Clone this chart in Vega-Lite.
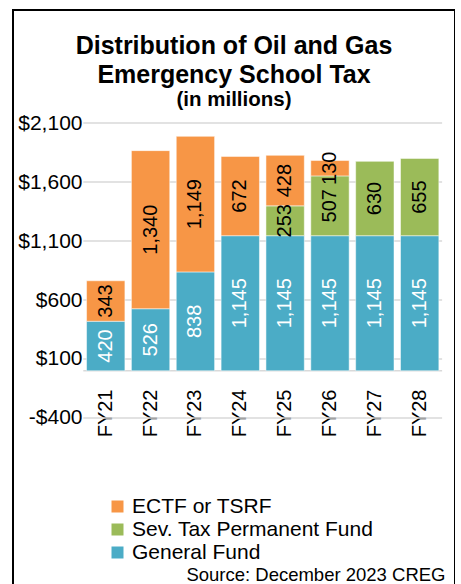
{
  "$schema": "https://vega.github.io/schema/vega-lite/v6.json",
  "width": 442,
  "height": 580,
  "autosize": {"type": "none"},
  "padding": {"left": 13, "top": 10, "right": 0, "bottom": 0},
  "title": {
    "text": ["Distribution of Oil and Gas", "Emergency School Tax"],
    "subtitle": "(in millions)",
    "font": "Liberation Sans",
    "subtitleFont": "Liberation Sans",
    "fontSize": 25,
    "fontWeight": "bold",
    "color": "black",
    "lineHeight": 29,
    "subtitleFontSize": 20.5,
    "subtitleFontWeight": "bold",
    "subtitleColor": "black",
    "subtitlePadding": 2,
    "anchor": "middle",
    "frame": "group",
    "offset": -100
  },
  "datasets": {
    "bars": [
      {"fy": "FY21", "series": "General Fund", "rank": 1, "value": 420},
      {"fy": "FY21", "series": "ECTF or TSRF", "rank": 3, "value": 343},
      {"fy": "FY22", "series": "General Fund", "rank": 1, "value": 526},
      {"fy": "FY22", "series": "ECTF or TSRF", "rank": 3, "value": 1340},
      {"fy": "FY23", "series": "General Fund", "rank": 1, "value": 838},
      {"fy": "FY23", "series": "ECTF or TSRF", "rank": 3, "value": 1149},
      {"fy": "FY24", "series": "General Fund", "rank": 1, "value": 1145},
      {"fy": "FY24", "series": "ECTF or TSRF", "rank": 3, "value": 672},
      {"fy": "FY25", "series": "General Fund", "rank": 1, "value": 1145},
      {"fy": "FY25", "series": "Sev. Tax Permanent Fund", "rank": 2, "value": 253},
      {"fy": "FY25", "series": "ECTF or TSRF", "rank": 3, "value": 428},
      {"fy": "FY26", "series": "General Fund", "rank": 1, "value": 1145},
      {"fy": "FY26", "series": "Sev. Tax Permanent Fund", "rank": 2, "value": 507},
      {"fy": "FY26", "series": "ECTF or TSRF", "rank": 3, "value": 130},
      {"fy": "FY27", "series": "General Fund", "rank": 1, "value": 1145},
      {"fy": "FY27", "series": "Sev. Tax Permanent Fund", "rank": 2, "value": 630},
      {"fy": "FY28", "series": "General Fund", "rank": 1, "value": 1145},
      {"fy": "FY28", "series": "Sev. Tax Permanent Fund", "rank": 2, "value": 655}
    ],
    "grid": [
      {"v": -400}, {"v": 0}, {"v": 100}, {"v": 600}, {"v": 1100}, {"v": 1600}, {"v": 2100}
    ]
  },
  "layer": [
    {
      "data": {"name": "grid"},
      "mark": {"type": "rule", "color": "#d9d9d9", "strokeWidth": 1.5},
      "encoding": {
        "x": {"datum": "FY21", "type": "nominal", "bandPosition": -0.085, "title": "Source: December 2023 CREG"},
        "x2": {"datum": "FY28", "bandPosition": 1.085},
        "y": {"field": "v", "type": "quantitative", "title": null}
      }
    },
    {
      "data": {"name": "bars"},
      "transform": [
        {"stack": "value", "groupby": ["fy"], "sort": [{"field": "rank", "order": "ascending"}], "as": ["v0", "v1"]}
      ],
      "mark": {"type": "bar", "stroke": "white", "strokeWidth": 0.5},
      "encoding": {
        "x": {
          "field": "fy",
          "type": "nominal",
          "title": "Source: December 2023 CREG",
          "scale": {"paddingInner": 0.145, "paddingOuter": 1.3188, "align": 0.82},
          "axis": {
            "orient": "bottom",
            "offset": -201,
            "labelAngle": -90,
            "domain": false,
            "ticks": false,
            "tickSize": 0,
            "grid": false,
            "labelPadding": 0,
            "labelFontSize": 20,
            "labelColor": "black",
            "labelFont": "Liberation Sans",
            "titleX": 432,
            "titleY": 191,
            "titleAlign": "right",
            "titleAnchor": "end",
            "titleBaseline": "alphabetic",
            "titleFontSize": 18.5,
            "titleFontWeight": "normal",
            "titleColor": "black",
            "titleFont": "Liberation Sans",
            "titleAngle": 0
          }
        },
        "y": {
          "field": "v0",
          "type": "quantitative",
          "title": null,
          "scale": {"domain": [-1858, 3058], "nice": false, "zero": false},
          "axis": {
            "orient": "left",
            "offset": -75,
            "values": [-400, 100, 600, 1100, 1600, 2100],
            "labelExpr": "datum.value < 0 ? '-$' + format(-datum.value, ',') : '$' + format(datum.value, ',')",
            "domain": false,
            "ticks": false,
            "tickSize": 0,
            "grid": false,
            "labelPadding": 6,
            "labelFontSize": 21,
            "labelColor": "black",
            "labelFont": "Liberation Sans"
          }
        },
        "y2": {"field": "v1"},
        "color": {
          "field": "series",
          "type": "nominal",
          "scale": {
            "domain": ["ECTF or TSRF", "Sev. Tax Permanent Fund", "General Fund"],
            "range": ["#F79646", "#9BBB59", "#4BACC6"]
          },
          "legend": {
            "title": null,
            "orient": "none",
            "legendX": 94,
            "legendY": 486,
            "symbolType": "square",
            "symbolSize": 144,
            "symbolStrokeWidth": 0,
            "labelFontSize": 21,
            "labelColor": "black",
            "labelFont": "Liberation Sans",
            "rowPadding": 1,
            "labelOffset": 4,
            "padding": 0,
            "labelLimit": 400
          }
        }
      }
    },
    {
      "data": {"name": "bars"},
      "transform": [
        {"stack": "value", "groupby": ["fy"], "sort": [{"field": "rank", "order": "ascending"}], "as": ["v0", "v1"]},
        {"calculate": "(datum.v0 + datum.v1) / 2", "as": "mid"}
      ],
      "mark": {"type": "text", "angle": 270, "fontSize": 20, "align": "center", "baseline": "middle", "font": "Liberation Sans"},
      "encoding": {
        "x": {"field": "fy", "type": "nominal", "title": "Source: December 2023 CREG"},
        "y": {"field": "mid", "type": "quantitative", "title": null},
        "text": {"field": "value", "type": "quantitative", "format": ","},
        "color": {"condition": {"test": "datum.series === 'General Fund'", "value": "white"}, "value": "black"}
      }
    }
  ],
  "config": {
    "font": "Liberation Sans",
    "view": {"stroke": "black", "strokeWidth": 2}
  }
}
